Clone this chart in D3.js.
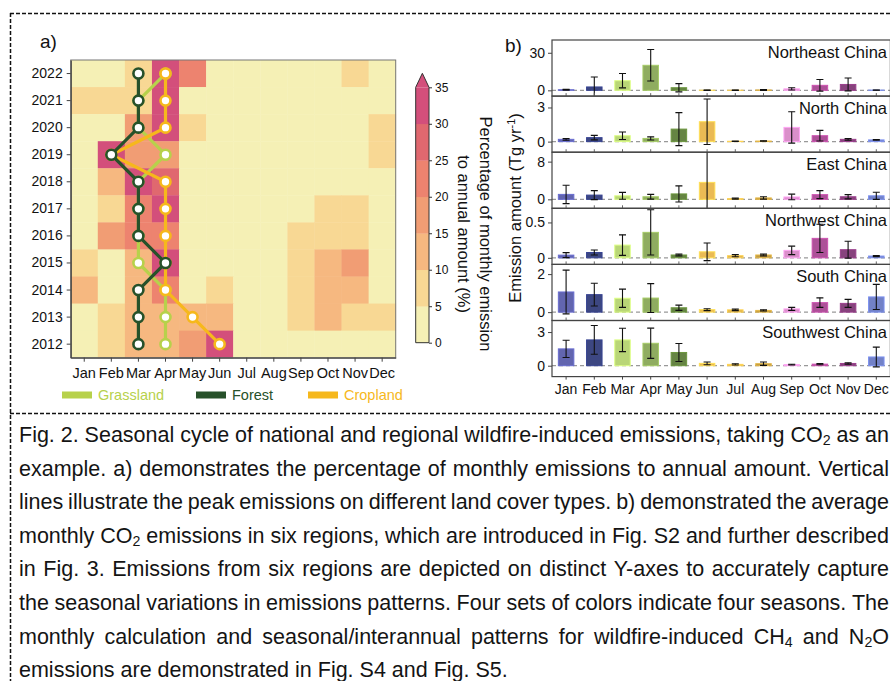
<!DOCTYPE html>
<html>
<head>
<meta charset="utf-8">
<script src="https://cdn.jsdelivr.net/npm/d3@7"></script>
<style>
  body { margin: 0; background: #fff; }
  svg { display: block; font-family: "Liberation Sans", Arial, sans-serif; }
</style>
</head>
<body>
<svg id="fig" width="890" height="681"></svg>
<script>
// ---- data -------------------------------------------------------------
const months = ['Jan', 'Feb', 'Mar', 'Apr', 'May', 'Jun', 'Jul', 'Aug', 'Sep', 'Oct', 'Nov', 'Dec'];
const years = [2022, 2021, 2020, 2019, 2018, 2017, 2016, 2015, 2014, 2013, 2012];

// percentage of monthly emission to annual amount, one row per year (same order as years)
const heatPct = [
    [2, 2, 8, 34, 23, 1, 1, 1, 1, 2, 7, 3],      // 2022
    [7, 8, 9, 33, 3, 1, 1, 1, 1, 2, 3, 4],       // 2021
    [2, 3, 18, 31, 8, 2, 1, 1, 2, 3, 4, 7],      // 2020
    [3, 31, 17, 16, 4, 2, 1, 1, 2, 3, 4, 8],     // 2019
    [2, 13, 32, 28, 4, 2, 1, 1, 2, 3, 4, 4],     // 2018
    [3, 8, 22, 31, 4, 2, 1, 1, 3, 7, 8, 4],      // 2017
    [3, 17, 23, 21, 4, 2, 1, 1, 6, 8, 7, 3],     // 2016
    [7, 4, 13, 31, 3, 1, 1, 1, 7, 12, 16, 4],    // 2015
    [12, 4, 14, 22, 4, 6, 1, 1, 8, 13, 11, 4],   // 2014
    [3, 9, 13, 12, 11, 11, 1, 1, 8, 12, 9, 7],   // 2013
    [3, 8, 13, 14, 18, 31, 2, 1, 3, 4, 2, 1]     // 2012
];
const colorBins = [5, 10, 15, 20, 25, 30];
const colorTicks = [0, 5, 10, 15, 20, 25, 30, 35];

// peak month per year for each land cover type
const grassPeak = ['Apr', 'Mar', 'Mar', 'Apr', 'Mar', 'Mar', 'Mar', 'Mar', 'Apr', 'Apr', 'Apr'];
const cropPeak = ['Apr', 'Apr', 'Apr', 'Feb', 'Apr', 'Apr', 'Apr', 'Apr', 'Apr', 'May', 'Jun'];
const forestPeak = ['Mar', 'Mar', 'Mar', 'Feb', 'Mar', 'Mar', 'Mar', 'Apr', 'Mar', 'Mar', 'Mar'];

// panel b: monthly mean CO2 emission and error (Tg/yr)
const regions = ['Northeast China', 'North China', 'East China', 'Northwest China', 'South China', 'Southwest China'];
const regionMean = [
    [0.5, 2.7, 7.7, 20, 2.1, 0.1, 0.1, 0.3, 1.2, 4.0, 4.7, 0.2],
    [0.2, 0.35, 0.52, 0.28, 1.1, 1.75, 0.03, 0.05, 1.25, 0.52, 0.2, 0.15],
    [1.05, 0.9, 0.75, 0.55, 1.15, 3.6, 0.15, 0.3, 0.5, 1.0, 0.55, 0.75],
    [0.038, 0.075, 0.18, 0.36, 0.04, 0.085, 0.03, 0.04, 0.105, 0.275, 0.115, 0.025],
    [1.06, 0.92, 0.73, 0.74, 0.23, 0.13, 0.12, 0.09, 0.17, 0.5, 0.46, 0.8],
    [1.5, 2.3, 2.3, 2.0, 1.18, 0.21, 0.12, 0.18, 0.1, 0.14, 0.2, 0.78]
];
const regionErr = [
    [0.3, 8, 5.7, 12.6, 3.3, 0.1, 0.1, 0.3, 0.9, 4.6, 5.1, 0.1],
    [0.07, 0.2, 0.33, 0.14, 1.45, 2.0, 0.02, 0.02, 1.38, 0.47, 0.07, 0.03],
    [1.95, 0.95, 0.72, 0.5, 1.7, 8, 0.1, 0.25, 0.6, 0.85, 0.45, 0.75],
    [0.035, 0.035, 0.145, 0.32, 0.012, 0.125, 0.015, 0.012, 0.06, 0.2, 0.12, 0.008],
    [1.15, 0.6, 0.48, 0.76, 0.14, 0.05, 0.04, 0.03, 0.08, 0.25, 0.21, 0.66],
    [0.77, 1.28, 1.04, 1.35, 0.8, 0.12, 0.05, 0.15, 0.03, 0.05, 0.06, 0.88]
];
const regionYMin = [-4.6, -0.93, -1.9, -0.093, -0.44, -0.97];
const regionYMax = [40.2, 4.0, 10, 0.70, 2.51, 4.03];
const regionTicks = [[0, 30], [0, 3], [0, 8], [0, 0.5], [0, 2], [0, 3]];

const captionLines = [
    'Fig. 2. Seasonal cycle of national and regional wildfire-induced emissions, taking CO_2 as an',
    'example. a) demonstrates the percentage of monthly emissions to annual amount. Vertical',
    'lines illustrate the peak emissions on different land cover types. b) demonstrated the average',
    'monthly CO_2 emissions in six regions, which are introduced in Fig. S2 and further described',
    'in Fig. 3. Emissions from six regions are depicted on distinct Y-axes to accurately capture',
    'the seasonal variations in emissions patterns. Four sets of colors indicate four seasons. The',
    'monthly calculation and seasonal/interannual patterns for wildfire-induced CH_4 and N_2O',
    'emissions are demonstrated in Fig. S4 and Fig. S5.'
];

// ---- styles -------------------------------------------------------------
const heatColors = ['#f5f0b5', '#f8d894', '#f6b880', '#f19d74', '#ed836f', '#e0686f', '#d34f7b'];
const monthColors = ['#5558a8', '#2d3777', '#b3d36b', '#86a553', '#587a33', '#e8b445',
    '#d9aa42', '#b99336', '#d785c5', '#a6428f', '#7d3372', '#6676c2'];
const landColors = { grass: '#b7d14b', forest: '#27512a', crop: '#f6b81c' };

const svg = d3.select('#fig');

// dashed frame of the figure
const frame = svg.append('g')
    .attr('stroke', '#111')
    .attr('stroke-width', 1.5)
    .attr('stroke-dasharray', '4,2');
frame.append('line').attr('x1', 10).attr('y1', 13.5).attr('x2', 890).attr('y2', 13.5);
frame.append('line').attr('x1', 10.5).attr('y1', 13).attr('x2', 10.5).attr('y2', 681);
frame.append('line').attr('x1', 10).attr('y1', 413.5).attr('x2', 890).attr('y2', 413.5);

// ---- panel a: heatmap ---------------------------------------------------
const hm = { left: 70.7, right: 395.7, top: 60, bottom: 357.7 };

const xHeat = d3.scaleBand().domain(months).range([hm.left, hm.right]);
const yHeat = d3.scaleBand().domain(years).range([hm.top, hm.bottom]);
const heatColor = d3.scaleThreshold().domain(colorBins).range(heatColors);

const cells = [];
years.forEach((yr, i) => months.forEach((m, j) => cells.push({ year: yr, month: m, v: heatPct[i][j] })));

svg.append('g')
    .selectAll('rect')
    .data(cells)
    .join('rect')
    .attr('x', d => xHeat(d.month))
    .attr('y', d => yHeat(d.year))
    .attr('width', xHeat.bandwidth() + 0.4)
    .attr('height', yHeat.bandwidth() + 0.4)
    .attr('fill', d => heatColor(d.v));

svg.append('rect')
    .attr('x', hm.left).attr('y', hm.top)
    .attr('width', hm.right - hm.left).attr('height', hm.bottom - hm.top)
    .attr('fill', 'none').attr('stroke', '#777').attr('stroke-width', 1);

const heatYAxis = svg.append('g')
    .attr('transform', `translate(${hm.left},0)`)
    .call(d3.axisLeft(yHeat).tickSize(4).tickSizeOuter(0).tickPadding(4));
const heatXAxis = svg.append('g')
    .attr('transform', `translate(0,${hm.bottom})`)
    .call(d3.axisBottom(xHeat).tickSize(4).tickSizeOuter(0).tickPadding(6));
[heatYAxis, heatXAxis].forEach(a => {
    a.selectAll('text').attr('font-size', 14).attr('fill', '#111').attr('font-family', null);
    a.select('.domain').attr('stroke', '#444').attr('stroke-width', 1.3);
    a.selectAll('.tick line').attr('stroke', '#444');
});
heatXAxis.selectAll('text').attr('font-size', 14.5);

// peak lines: grassland, cropland, forest (forest on top)
const peakSeries = [
    { key: 'grass', peaks: grassPeak },
    { key: 'crop', peaks: cropPeak },
    { key: 'forest', peaks: forestPeak }
];
const peakLine = d3.line()
    .x(d => xHeat(d.month) + xHeat.bandwidth() / 2)
    .y(d => yHeat(d.year) + yHeat.bandwidth() / 2);

peakSeries.forEach(s => {
    const pts = years.map((yr, i) => ({ year: yr, month: s.peaks[i] }));
    const g = svg.append('g');
    g.append('path')
        .datum(pts)
        .attr('d', peakLine)
        .attr('fill', 'none')
        .attr('stroke', landColors[s.key])
        .attr('stroke-width', 3.2);
    g.selectAll('circle')
        .data(pts)
        .join('circle')
        .attr('cx', d => xHeat(d.month) + xHeat.bandwidth() / 2)
        .attr('cy', d => yHeat(d.year) + yHeat.bandwidth() / 2)
        .attr('r', 5)
        .attr('fill', '#fff')
        .attr('stroke', landColors[s.key])
        .attr('stroke-width', 2.6);
});

// legend
const legendItems = [
    { label: 'Grassland', key: 'grass', x: 62 },
    { label: 'Forest', key: 'forest', x: 196 },
    { label: 'Cropland', key: 'crop', x: 308 }
];
const legend = svg.append('g');
legendItems.forEach(it => {
    legend.append('rect')
        .attr('x', it.x).attr('y', 391.5)
        .attr('width', 30).attr('height', 7)
        .attr('fill', landColors[it.key]);
    legend.append('text')
        .attr('x', it.x + 36).attr('y', 400)
        .attr('font-size', 14.5)
        .attr('fill', landColors[it.key])
        .text(it.label);
});

// colorbar
const cb = { x: 415.7, w: 13.3, top: 87.3, bottom: 342.7, tip: 73.3 };
const cbScale = d3.scaleLinear().domain([0, 35]).range([cb.bottom, cb.top]);
const cbEdges = [0].concat(colorBins).concat([35]);
const cbG = svg.append('g');
cbG.selectAll('rect')
    .data(heatColors)
    .join('rect')
    .attr('x', cb.x)
    .attr('y', (d, i) => cbScale(cbEdges[i + 1]))
    .attr('width', cb.w)
    .attr('height', (d, i) => cbScale(cbEdges[i]) - cbScale(cbEdges[i + 1]) + 0.3)
    .attr('fill', d => d);
cbG.append('path')
    .attr('d', `M${cb.x},${cb.top}L${cb.x + cb.w / 2},${cb.tip}L${cb.x + cb.w},${cb.top}Z`)
    .attr('fill', heatColors[heatColors.length - 1]);
cbG.append('path')
    .attr('d', `M${cb.x},${cb.bottom}L${cb.x},${cb.top}L${cb.x + cb.w / 2},${cb.tip}L${cb.x + cb.w},${cb.top}L${cb.x + cb.w},${cb.bottom}Z`)
    .attr('fill', 'none').attr('stroke', '#333').attr('stroke-width', 1);
const cbAxis = cbG.append('g')
    .attr('transform', `translate(${cb.x + cb.w},0)`)
    .call(d3.axisRight(cbScale).tickValues(colorTicks).tickSize(3).tickPadding(3));
cbAxis.select('.domain').remove();
cbAxis.selectAll('text').attr('font-size', 12).attr('fill', '#111').attr('font-family', null);
cbAxis.selectAll('.tick line').attr('stroke', '#333');

const cbLabel = svg.append('g')
    .attr('transform', 'translate(480,234) rotate(90)')
    .attr('font-size', 16.5)
    .attr('fill', '#111')
    .attr('text-anchor', 'middle');
cbLabel.append('text').attr('x', 0).attr('y', 0).text('Percentage of monthly emission');
cbLabel.append('text').attr('x', 0).attr('y', 22.5).text('to annual amount (%)');

svg.append('text').attr('x', 40).attr('y', 48).attr('font-size', 19).attr('fill', '#111').text('a)');

// ---- panel b: regional bars ----------------------------------------------
const pb = { left: 552, right: 890.4, top: 40, panelH: 56.1 };
const xBar = d3.scaleBand().domain(months).range([pb.left, pb.right]);
const barW = 15.5;
const capW = 7;

regions.forEach((name, i) => {
    const top = pb.top + i * pb.panelH;
    const bottom = top + pb.panelH;
    const yS = d3.scaleLinear().domain([regionYMin[i], regionYMax[i]]).range([bottom, top]);
    const rows = months.map((m, j) => ({ month: m, v: regionMean[i][j], e: regionErr[i][j], c: monthColors[j] }));

    svg.append('clipPath').attr('id', 'clip' + i)
        .append('rect').attr('x', pb.left).attr('y', top).attr('width', pb.right - pb.left).attr('height', pb.panelH);

    const g = svg.append('g').attr('clip-path', `url(#clip${i})`);

    g.append('line')
        .attr('x1', pb.left).attr('x2', pb.right)
        .attr('y1', yS(0)).attr('y2', yS(0))
        .attr('stroke', '#999').attr('stroke-width', 1.2).attr('stroke-dasharray', '4,3');

    g.selectAll('.bar')
        .data(rows)
        .join('rect')
        .attr('class', 'bar')
        .attr('x', d => xBar(d.month) + (xBar.bandwidth() - barW) / 2)
        .attr('y', d => yS(d.v))
        .attr('width', barW)
        .attr('height', d => yS(0) - yS(d.v))
        .attr('fill', d => d.c)
        .attr('fill-opacity', 0.92)
        .attr('stroke', d => d3.color(d.c).brighter(0.6))
        .attr('stroke-width', 1);

    const eb = g.selectAll('.err')
        .data(rows)
        .join('g')
        .attr('class', 'err')
        .attr('stroke', '#111')
        .attr('stroke-width', 1.1);
    eb.append('line')
        .attr('x1', d => xBar(d.month) + xBar.bandwidth() / 2)
        .attr('x2', d => xBar(d.month) + xBar.bandwidth() / 2)
        .attr('y1', d => yS(d.v - d.e))
        .attr('y2', d => yS(d.v + d.e));
    eb.append('line')
        .attr('x1', d => xBar(d.month) + xBar.bandwidth() / 2 - capW / 2)
        .attr('x2', d => xBar(d.month) + xBar.bandwidth() / 2 + capW / 2)
        .attr('y1', d => yS(d.v + d.e))
        .attr('y2', d => yS(d.v + d.e));
    eb.append('line')
        .attr('x1', d => xBar(d.month) + xBar.bandwidth() / 2 - capW / 2)
        .attr('x2', d => xBar(d.month) + xBar.bandwidth() / 2 + capW / 2)
        .attr('y1', d => yS(d.v - d.e))
        .attr('y2', d => yS(d.v - d.e));

    // panel frame
    svg.append('rect')
        .attr('x', pb.left).attr('y', top)
        .attr('width', pb.right - pb.left).attr('height', pb.panelH)
        .attr('fill', 'none').attr('stroke', '#444').attr('stroke-width', 1.2);

    // small month ticks inside the bottom of each panel
    if (i < regions.length - 1) {
        svg.append('g').selectAll('line')
            .data(months)
            .join('line')
            .attr('x1', m => xBar(m) + xBar.bandwidth() / 2)
            .attr('x2', m => xBar(m) + xBar.bandwidth() / 2)
            .attr('y1', bottom).attr('y2', bottom - 3)
            .attr('stroke', '#666');
    }

    const yAx = svg.append('g')
        .attr('transform', `translate(${pb.left},0)`)
        .call(d3.axisLeft(yS).tickValues(regionTicks[i]).tickSize(4).tickPadding(3).tickFormat(d => d));
    yAx.select('.domain').remove();
    yAx.selectAll('text').attr('font-size', 14).attr('fill', '#111').attr('font-family', null);
    yAx.selectAll('.tick line').attr('stroke', '#444');

    svg.append('text')
        .attr('x', 887).attr('y', top + 17.5)
        .attr('text-anchor', 'end')
        .attr('font-size', 16.5)
        .attr('fill', '#111')
        .text(name);
});

const barXAxis = svg.append('g')
    .attr('transform', `translate(0,${pb.top + regions.length * pb.panelH})`)
    .call(d3.axisBottom(xBar).tickSize(3).tickSizeOuter(0).tickPadding(4));
barXAxis.select('.domain').remove();
barXAxis.selectAll('text').attr('font-size', 14).attr('fill', '#111').attr('font-family', null);
barXAxis.selectAll('.tick line').attr('stroke', '#444');

const yTitle = svg.append('text')
    .attr('transform', 'translate(521,208) rotate(-90)')
    .attr('text-anchor', 'middle')
    .attr('font-size', 16.5)
    .attr('fill', '#111');
yTitle.append('tspan').text('Emission amount (Tg yr');
yTitle.append('tspan').attr('font-size', 11).attr('dy', -6).text('-1');
yTitle.append('tspan').attr('dy', 6).text(')');

svg.append('text').attr('x', 505).attr('y', 52).attr('font-size', 19).attr('fill', '#111').text('b)');

// ---- caption (justified) ----------------------------------------------------
const capFont = 21.5;
const capLeft = 19, capRight = 889;
const capG = svg.append('g').attr('font-size', capFont).attr('fill', '#141414');

function addWord(parent, word) {
    const t = parent.append('text');
    let sub = false;
    word.split(/(_\d)/).filter(p => p.length).forEach(p => {
        if (p.startsWith('_')) {
            t.append('tspan').attr('font-size', capFont * 0.66).attr('dy', 3).text(p.slice(1));
            sub = true;
        } else {
            const ts = t.append('tspan').text(p);
            if (sub) { ts.attr('dy', -3); sub = false; }
        }
    });
    return t;
}

const spaceW = (() => {
    const t = capG.append('text').text('a a');
    const t2 = capG.append('text').text('aa');
    const w = t.node().getComputedTextLength() - t2.node().getComputedTextLength();
    t.remove(); t2.remove();
    return w;
})();

captionLines.forEach((line, i) => {
    const yb = 442 + i * 33.6;
    const words = line.split(' ');
    const texts = words.map(w => addWord(capG, w).attr('y', yb));
    const widths = texts.map(t => t.node().getComputedTextLength());
    const total = d3.sum(widths);
    const last = i === captionLines.length - 1;
    const gap = last ? spaceW : (capRight - capLeft - total) / (words.length - 1);
    let x = capLeft;
    texts.forEach((t, k) => {
        t.attr('x', x);
        x += widths[k] + gap;
    });
});
</script>
</body>
</html>
